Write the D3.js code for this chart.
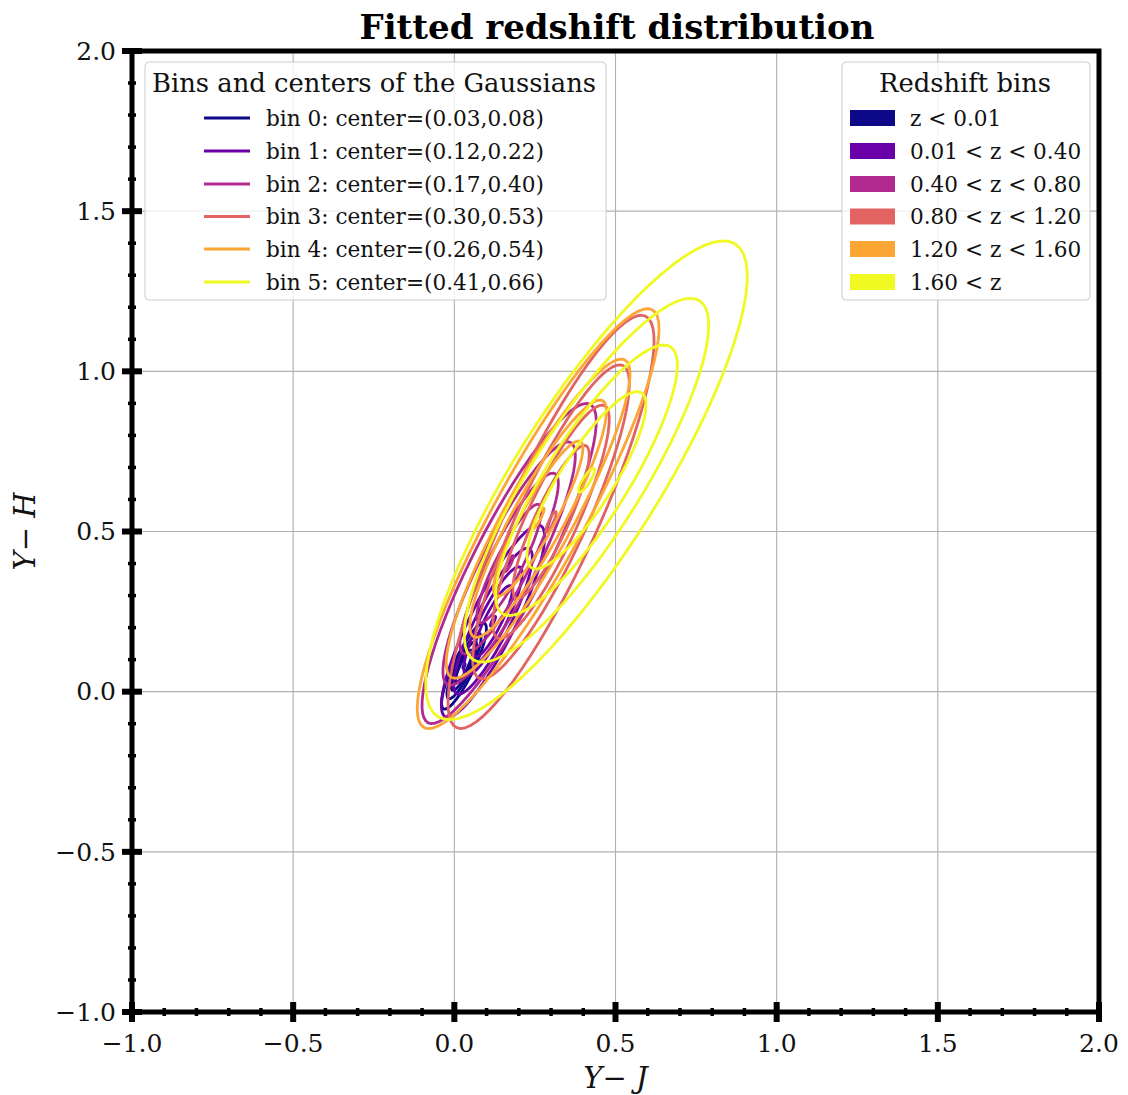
<!DOCTYPE html>
<html><head><meta charset="utf-8">
<script src="https://cdn.jsdelivr.net/npm/d3@7"></script>
<style>body{margin:0;background:#fff}svg{display:block}</style>
</head><body>
<script>
// ---- data ----
const binLabels = ["bin 0: center=(0.03,0.08)","bin 1: center=(0.12,0.22)","bin 2: center=(0.17,0.40)",
  "bin 3: center=(0.30,0.53)","bin 4: center=(0.26,0.54)","bin 5: center=(0.41,0.66)"];
const zLabels = ["z < 0.01","0.01 < z < 0.40","0.40 < z < 0.80","0.80 < z < 1.20","1.20 < z < 1.60","1.60 < z"];
const colors = ["#0d0887","#6a00a8","#b12a90","#e16462","#fca636","#f0f921"];
const centersX = [0.03,0.12,0.17,0.30,0.26,0.41];
const centersY = [0.08,0.22,0.40,0.53,0.54,0.66];
// outer contour ellipse (semi-major, semi-minor, angle)
const outerA = [0.148,0.333,0.557,0.706,0.742,0.87];
const outerB = [0.032,0.070,0.112,0.141,0.141,0.225];
const angleDeg = [64.7,63.7,63.2,65.5,61.5,58];
// relative size of the nested contour levels
const levelScales = [1,0.76,0.565,0.37,0.05];
const majorTicks = [-1.0,-0.5,0.0,0.5,1.0,1.5,2.0];
const minorTicks = d3.range(-10,21).map(d=>d/10);

const W=1128,H=1095;
const svg=d3.select("body").append("svg").attr("width",W).attr("height",H);
const L=132,R=1099,T=51,B=1012;
const x=d3.scaleLinear().domain([-1,2]).range([L,R]);
const y=d3.scaleLinear().domain([-1,2]).range([B,T]);
const serif="'DejaVu Serif', serif";
const fmt=d=>d3.format(".1f")(d).replace("-","\u2212");

// grid
const g=svg.append("g");
g.selectAll(".gx").data(majorTicks).join("line").attr("x1",d=>x(d)).attr("x2",d=>x(d)).attr("y1",T).attr("y2",B)
  .attr("stroke","#b0b0b0").attr("stroke-width",1.1);
g.selectAll(".gy").data(majorTicks).join("line").attr("y1",d=>y(d)).attr("y2",d=>y(d)).attr("x1",L).attr("x2",R)
  .attr("stroke","#b0b0b0").attr("stroke-width",1.1);

// contours
const line=d3.line().curve(d3.curveLinearClosed);
const ts=d3.range(0,72).map(i=>i/72*2*Math.PI);
const cg=svg.append("g").attr("fill","none");
colors.forEach((c,i)=>{
  const th=angleDeg[i]*Math.PI/180;
  levelScales.forEach(s=>{
    const a=outerA[i]*s,b=outerB[i]*s;
    const pts=ts.map(t=>{
      const u=a*Math.cos(t),v=b*Math.sin(t);
      return [x(centersX[i]+u*Math.cos(th)-v*Math.sin(th)), y(centersY[i]+u*Math.sin(th)+v*Math.cos(th))];
    });
    cg.append("path").attr("d",line(pts)).attr("stroke",c).attr("stroke-width",2.8).attr("stroke-linejoin","round");
  });
});

// axes
const ax=svg.append("g");
ax.append("rect").attr("x",L).attr("y",T).attr("width",R-L).attr("height",B-T).attr("fill","none")
  .attr("stroke","#000").attr("stroke-width",5);
ax.selectAll(".mx").data(majorTicks).join("line").attr("x1",d=>x(d)).attr("x2",d=>x(d)).attr("y1",B-10).attr("y2",B+10)
  .attr("stroke","#000").attr("stroke-width",6);
ax.selectAll(".my").data(majorTicks).join("line").attr("y1",d=>y(d)).attr("y2",d=>y(d)).attr("x1",L-10).attr("x2",L+10)
  .attr("stroke","#000").attr("stroke-width",6);
ax.selectAll(".nx").data(minorTicks).join("line").attr("x1",d=>x(d)).attr("x2",d=>x(d)).attr("y1",B-4).attr("y2",B+4)
  .attr("stroke","#000").attr("stroke-width",3.5);
ax.selectAll(".ny").data(minorTicks).join("line").attr("y1",d=>y(d)).attr("y2",d=>y(d)).attr("x1",L-4).attr("x2",L+4)
  .attr("stroke","#000").attr("stroke-width",3.5);
ax.selectAll(".tx").data(majorTicks).join("text").attr("x",d=>x(d)).attr("y",1043).attr("dy","0.35em").attr("text-anchor","middle")
  .attr("font-family",serif).attr("font-size",25).attr("fill","#111").text(fmt);
ax.selectAll(".ty").data(majorTicks).join("text").attr("x",L-16).attr("y",d=>y(d)).attr("dy","0.35em").attr("text-anchor","end")
  .attr("font-family",serif).attr("font-size",25).attr("fill","#111").text(fmt);
svg.append("text").attr("x",(L+R)/2).attr("y",1078).attr("dy","0.35em").attr("text-anchor","middle").attr("font-family",serif)
  .attr("font-style","italic").attr("font-size",29).attr("fill","#111").text("Y\u2212 J");
svg.append("text").attr("transform",`translate(25,${(T+B)/2}) rotate(-90)`).attr("dy","0.35em").attr("text-anchor","middle").attr("font-family",serif)
  .attr("font-style","italic").attr("font-size",29).attr("fill","#111").text("Y\u2212 H");
svg.append("text").attr("x",617).attr("y",27).attr("dy","0.35em").attr("text-anchor","middle").attr("font-family",serif)
  .attr("font-weight","bold").attr("font-size",34).attr("fill","#000").text("Fitted redshift distribution");

// legend 1
const rowY=[118,151,184,216.5,249,282];
const l1=svg.append("g");
l1.append("rect").attr("x",145).attr("y",62).attr("width",461).attr("height",238).attr("rx",4)
  .attr("fill","#fff").attr("fill-opacity",0.8).attr("stroke","#cccccc");
l1.append("text").attr("x",374).attr("y",83).attr("dy","0.35em").attr("text-anchor","middle").attr("font-family",serif)
  .attr("font-size",25.8).attr("fill","#111").text("Bins and centers of the Gaussians");
binLabels.forEach((t,i)=>{
  l1.append("line").attr("x1",204).attr("x2",250).attr("y1",rowY[i]).attr("y2",rowY[i]).attr("stroke",colors[i]).attr("stroke-width",2.8);
  l1.append("text").attr("x",266).attr("y",rowY[i]).attr("dy","0.35em").attr("font-family",serif).attr("font-size",21.6)
    .attr("fill","#111").text(t);
});
// legend 2
const l2=svg.append("g");
l2.append("rect").attr("x",842).attr("y",62).attr("width",248).attr("height",238).attr("rx",4)
  .attr("fill","#fff").attr("fill-opacity",0.8).attr("stroke","#cccccc");
l2.append("text").attr("x",965).attr("y",83).attr("dy","0.35em").attr("text-anchor","middle").attr("font-family",serif)
  .attr("font-size",25.8).attr("fill","#111").text("Redshift bins");
zLabels.forEach((t,i)=>{
  l2.append("rect").attr("x",850).attr("y",rowY[i]-8).attr("width",45).attr("height",16).attr("fill",colors[i]);
  l2.append("text").attr("x",910).attr("y",rowY[i]).attr("dy","0.35em").attr("font-family",serif).attr("font-size",21.6)
    .attr("fill","#111").text(t);
});
</script>
</body></html>
